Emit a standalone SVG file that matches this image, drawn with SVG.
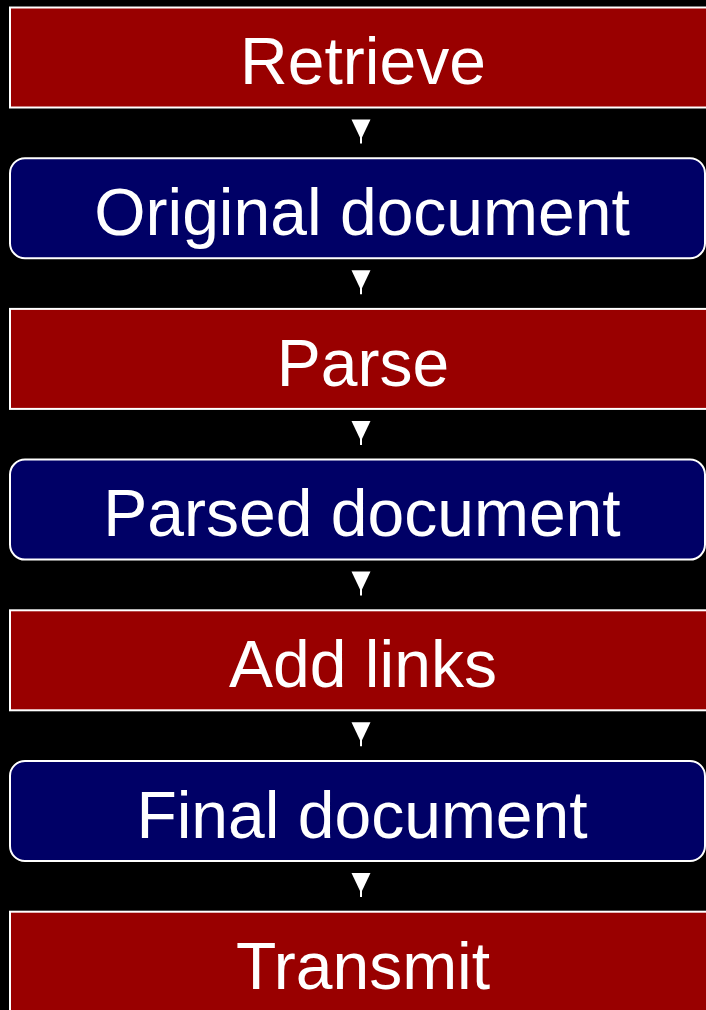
<svg xmlns="http://www.w3.org/2000/svg" width="706" height="1010" viewBox="0 0 706 1010">
  <style>
    .step { fill: #990000; stroke: #ffffff; stroke-width: 2; }
    .doc { fill: #000066; stroke: #ffffff; stroke-width: 2; }
    .label { fill: #ffffff; font-family: "Liberation Sans", Arial, sans-serif; font-size: 66px; text-anchor: middle; }
    .head { fill: #ffffff; }
    .tail { stroke: #ffffff; stroke-width: 2; }
  </style>
  <rect x="0" y="0" width="706" height="1010" fill="#000000"/>

  <g id="retrieve">
    <rect class="step" x="10" y="7.5" width="720" height="100"/>
    <text class="label" x="363" y="84">Retrieve</text>
  </g>
  <g id="original-document">
    <rect class="doc" x="10" y="158.2" width="695" height="100" rx="15" ry="15"/>
    <text class="label" x="362" y="235">Original document</text>
  </g>
  <g id="parse">
    <rect class="step" x="10" y="308.9" width="720" height="100"/>
    <text class="label" x="363" y="386">Parse</text>
  </g>
  <g id="parsed-document">
    <rect class="doc" x="10" y="459.6" width="695" height="100" rx="15" ry="15"/>
    <text class="label" x="362" y="536">Parsed document</text>
  </g>
  <g id="add-links">
    <rect class="step" x="10" y="610.3" width="720" height="100"/>
    <text class="label" x="363" y="687">Add links</text>
  </g>
  <g id="final-document">
    <rect class="doc" x="10" y="761" width="695" height="100" rx="15" ry="15"/>
    <text class="label" x="362" y="838">Final document</text>
  </g>
  <g id="transmit">
    <rect class="step" x="10" y="911.7" width="720" height="100"/>
    <text class="label" x="363" y="989">Transmit</text>
  </g>

  <!-- arrowheads between consecutive stages -->
  <g id="connectors">
    <g transform="translate(0,107.5)">
      <polygon class="head" points="351.5,12 370.5,12 361,32"/><line class="tail" x1="361" y1="28" x2="361" y2="36"/>
    </g>
    <g transform="translate(0,258.2)">
      <polygon class="head" points="351.5,12 370.5,12 361,32"/><line class="tail" x1="361" y1="28" x2="361" y2="36"/>
    </g>
    <g transform="translate(0,408.9)">
      <polygon class="head" points="351.5,12 370.5,12 361,32"/><line class="tail" x1="361" y1="28" x2="361" y2="36"/>
    </g>
    <g transform="translate(0,559.6)">
      <polygon class="head" points="351.5,12 370.5,12 361,32"/><line class="tail" x1="361" y1="28" x2="361" y2="36"/>
    </g>
    <g transform="translate(0,710.3)">
      <polygon class="head" points="351.5,12 370.5,12 361,32"/><line class="tail" x1="361" y1="28" x2="361" y2="36"/>
    </g>
    <g transform="translate(0,861)">
      <polygon class="head" points="351.5,12 370.5,12 361,32"/><line class="tail" x1="361" y1="28" x2="361" y2="36"/>
    </g>
  </g>
</svg>
